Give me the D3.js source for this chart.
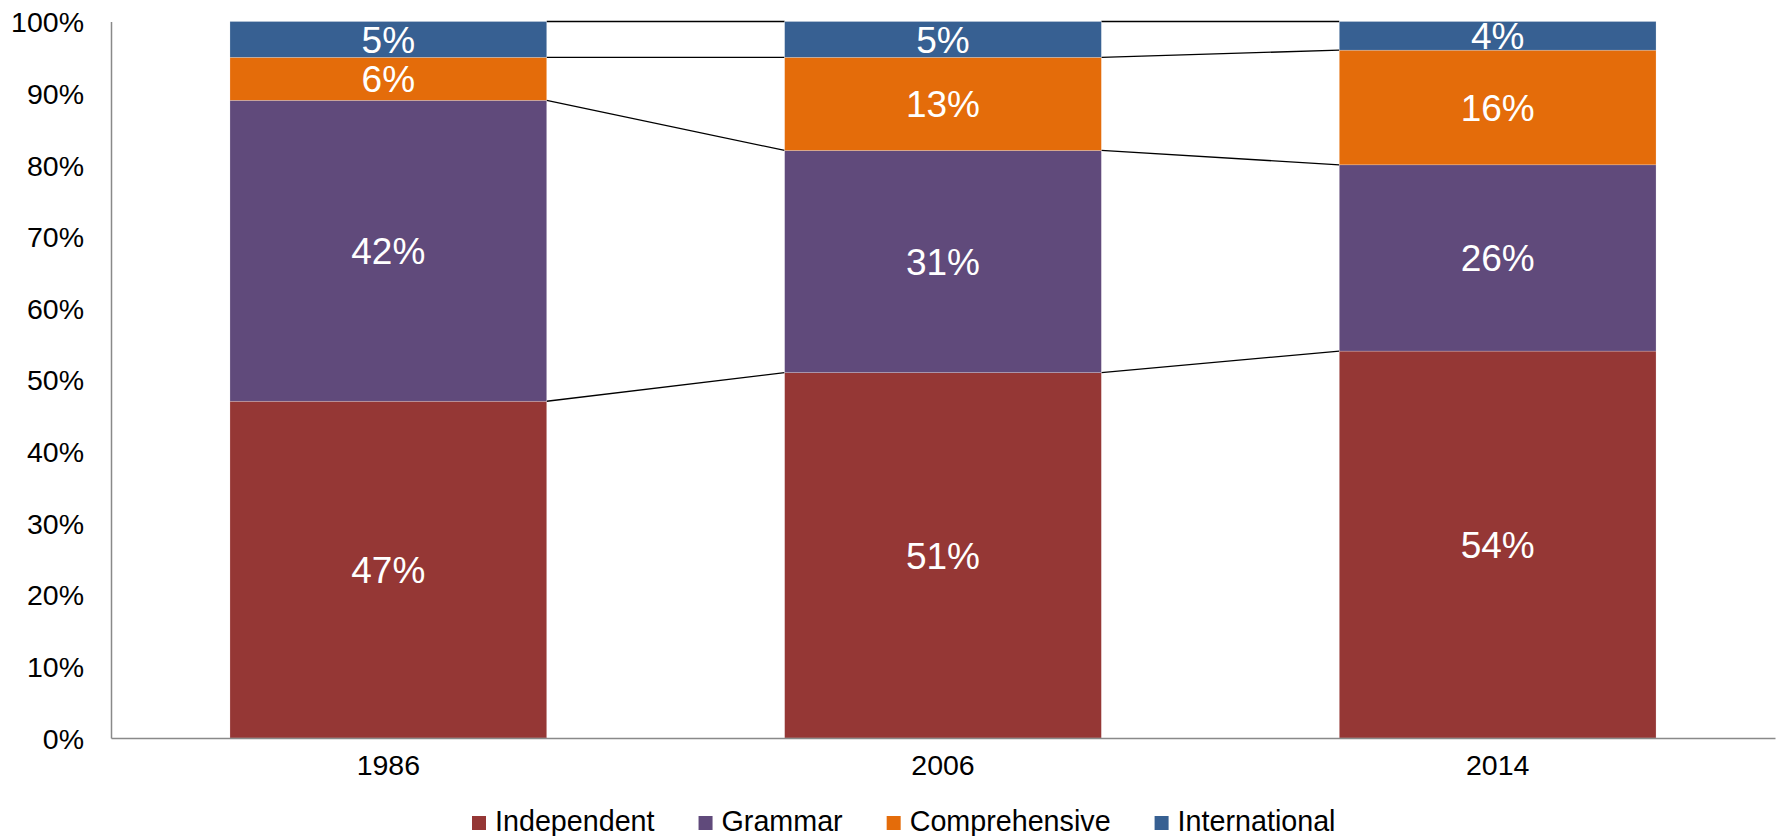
<!DOCTYPE html>
<html>
<head>
<meta charset="utf-8">
<script src="https://cdn.jsdelivr.net/npm/d3@7"></script>
<style>
  html, body { margin: 0; padding: 0; background: #fff; }
  svg { display: block; font-family: Arial, "Liberation Sans", sans-serif; }
</style>
</head>
<body>
<svg id="chart" width="1781" height="836"></svg>
<script>
const years = ["1986", "2006", "2014"];
const seriesNames = ["Independent", "Grammar", "Comprehensive", "International"];
const independent = [47, 51, 54];
const grammar = [42, 31, 26];
const comprehensive = [6, 13, 16];
const international = [5, 5, 4];
const seriesColors = ["#953735", "#604A7B", "#E46C0A", "#376092"];
const yTicks = [0, 0.1, 0.2, 0.3, 0.4, 0.5, 0.6, 0.7, 0.8, 0.9, 1.0];

const W = 1781, H = 836;
const margin = { left: 111, right: 6, top: 21.5, bottom: 98 };
const svg = d3.select("#chart");

const table = years.map((y, i) => ({
  year: y,
  Independent: independent[i] / 100,
  Grammar: grammar[i] / 100,
  Comprehensive: comprehensive[i] / 100,
  International: international[i] / 100
}));

const stack = d3.stack().keys(seriesNames);
const layers = stack(table);

const x = d3.scaleBand().domain(years)
  .range([margin.left, W - margin.right])
  .paddingInner(0.429).paddingOuter(0.2145);
const y = d3.scaleLinear().domain([0, 1]).range([H - margin.bottom, margin.top]);
const color = d3.scaleOrdinal().domain(seriesNames).range(seriesColors);

// connector lines
const connectors = svg.append("g");
layers.forEach(layer => {
  for (let i = 0; i < years.length - 1; i++) {
    const a = layer[i], b = layer[i + 1];
    connectors.append("line")
      .attr("x1", x(years[i]) + x.bandwidth())
      .attr("y1", y(a[1]))
      .attr("x2", x(years[i + 1]))
      .attr("y2", y(b[1]))
      .attr("stroke", "#000")
      .attr("stroke-width", 1.3);
  }
});

// bars
const defs = svg.append("defs");
const barG = svg.append("g");
layers.forEach((layer, li) => {
  const g = barG.append("g").attr("fill", color(layer.key));
  layer.forEach((d, i) => {
    g.append("rect")
      .attr("x", x(years[i]))
      .attr("y", y(d[1]))
      .attr("width", x.bandwidth())
      .attr("height", y(d[0]) - y(d[1]))
      .attr("stroke", "rgba(255,255,255,0.35)")
      .attr("stroke-width", 0.6);
  });
});

// labels
const labelG = svg.append("g");
layers.forEach((layer, li) => {
  layer.forEach((d, i) => {
    const id = "clip-" + li + "-" + i;
    defs.append("clipPath").attr("id", id)
      .append("rect")
      .attr("x", x(years[i]))
      .attr("y", y(d[1]))
      .attr("width", x.bandwidth())
      .attr("height", y(d[0]) - y(d[1]));
    labelG.append("text")
      .attr("clip-path", "url(#" + id + ")")
      .attr("x", x(years[i]) + x.bandwidth() / 2)
      .attr("y", (y(d[0]) + y(d[1])) / 2)
      .attr("dy", "0.358em")
      .attr("text-anchor", "middle")
      .attr("fill", "#fff")
      .attr("font-size", 37)
      .text(Math.round((d[1] - d[0]) * 100) + "%");
  });
});

// axes
const yAxis = d3.axisLeft(y).tickValues(yTicks).tickFormat(d3.format(".0%")).tickSize(0).tickPadding(27);
const yg = svg.append("g").attr("transform", `translate(${margin.left},0)`).call(yAxis);
yg.select(".domain").attr("stroke", "#898989").attr("stroke-width", 1.5);
yg.selectAll("text").attr("font-size", 28.5).attr("fill", "#000").attr("font-family", "Arial, 'Liberation Sans', sans-serif").attr("dy", "0.358em");

const xAxis = d3.axisBottom(x).tickSize(0).tickPadding(17);
const xg = svg.append("g").attr("transform", `translate(0,${H - margin.bottom})`).call(xAxis);
xg.select(".domain").attr("stroke", "#898989").attr("stroke-width", 1.5);
xg.selectAll("text").attr("font-size", 28.5).attr("fill", "#000").attr("font-family", "Arial, 'Liberation Sans', sans-serif").attr("dy", "0.716em");

// legend
const legend = svg.append("g").attr("transform", "translate(472, 831)");
let lx = 0;
seriesNames.forEach((name, i) => {
  const item = legend.append("g").attr("transform", `translate(${lx},0)`);
  item.append("rect").attr("x", 0).attr("y", -15).attr("width", 14).attr("height", 14).attr("fill", color(name));
  const t = item.append("text").attr("x", 23).attr("y", 0).attr("font-size", 28.7).attr("fill", "#000").text(name);
  const w = t.node().getComputedTextLength();
  lx += 23 + w + 44;
});
</script>
</body>
</html>
